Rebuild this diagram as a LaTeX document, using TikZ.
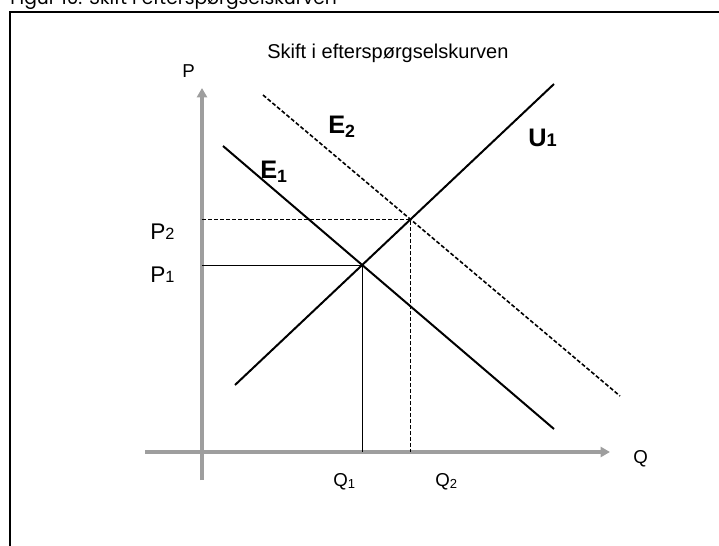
\documentclass[tikz,border=0pt]{standalone}
\usepackage{fontspec}
\setmainfont{Liberation Sans}
\newfontfamily\headfont{Poppins}
\usetikzlibrary{arrows.meta, intersections}
\newcommand{\smalldigit}[1]{\scalebox{0.72}{#1}}

\begin{document}
\begin{tikzpicture}[x=0.75pt, y=-0.75pt,
    axis/.style={draw=black!38, line width=3pt, -{Triangle[length=7pt, width=7.5pt]}},
    curve/.style={line width=1.5pt},
    guide/.style={line width=0.7pt},
    lbl/.style={anchor=base west, inner sep=0pt, font=\fontsize{14}{16}\selectfont},
    plbl/.style={anchor=base west, inner sep=0pt, font=\fontsize{17}{19}\selectfont},
    blbl/.style={anchor=base west, inner sep=0pt, font=\bfseries\fontsize{19}{21}\selectfont}]
    \clip (0,0) rectangle (719,546);

    % Ramme og overskrift
    \draw[line width=2pt] (10,560) -- (10,12) -- (730,12);
    \node[anchor=base west, inner sep=0pt, font=\headfont\fontsize{14}{16}\selectfont] (head) at (10,5) {Figur 10: Skift i efterspørgselskurven};
    \node[anchor=base west, inner sep=0pt, font=\fontsize{15}{17}\selectfont] (title) at (267,59) {Skift i efterspørgselskurven};

    % Akser
    \draw[axis] (202,480) -- (202,88) coordinate (ytop);
    \draw[axis] (145,452) -- (610,452) coordinate (xend);
    \coordinate (O) at (202,452);
    \node[lbl] (P) at (182,77) {P};
    \node[lbl] (Q) at (633,463) {Q};

    % Udbud og efterspørgsel
    \draw[curve, name path=E1] (223,146) -- (554,429);
    \draw[curve, line width=1.2pt, dash pattern=on 3pt off 1.6pt, name path=E2] (263,95) -- (620,396);
    \draw[curve, name path=U1] (235,385) -- (554,84);
    \path[name intersections={of=E1 and U1, by=A}];
    \path[name intersections={of=E2 and U1, by=B}];

    % Ligevægte
    \draw[guide] (O |- A) -- (A) -- (A |- O);
    \draw[guide, line width=1pt, dash pattern=on 3pt off 1.5pt] (O |- B) -- (B) -- (B |- O);

    % Etiketter
    \node[plbl] (P1) at (150,282) {P\smalldigit{1}};
    \node[plbl] (P2) at (150,239) {P\smalldigit{2}};
    \node[lbl] (Q1) at (333,486) {Q\textsubscript{1}};
    \node[lbl] (Q2) at (435,486) {Q\textsubscript{2}};
    \node[blbl] (E1) at (260,178) {E\textsubscript{1}};
    \node[blbl] (E2) at (328,133) {E\textsubscript{2}};
    \node[blbl] (U1) at (528,146) {U\smalldigit{1}};
\end{tikzpicture}
\end{document}
